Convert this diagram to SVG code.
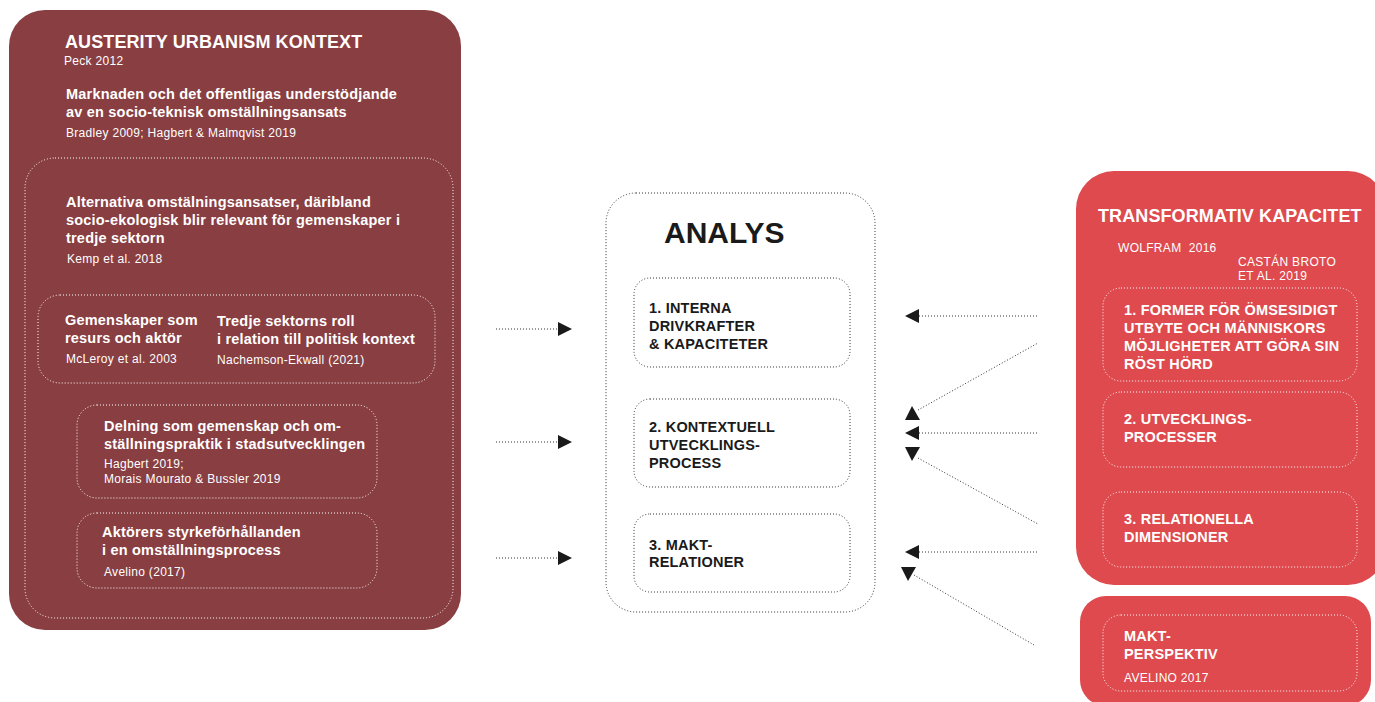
<svg xmlns="http://www.w3.org/2000/svg" width="1375" height="702" viewBox="0 0 1375 702">
<style>
text{font-family:"Liberation Sans",Arial,sans-serif;}
.w{fill:#fff;}
.h{font-size:18px;font-weight:bold;letter-spacing:0.1px;}
.t{font-size:14.5px;font-weight:bold;letter-spacing:0.2px;}
.s{font-size:12px;letter-spacing:0.3px;}
.k{fill:#1a1a1a;}
.dw{fill:none;stroke:#fff;stroke-width:1;stroke-dasharray:1 2;}
.dk{fill:none;stroke:#333;stroke-width:1;stroke-dasharray:1 2;}
.ah{fill:#1a1a1a;}
</style>
<rect width="1375" height="702" fill="#fff"/>
<g id="austerity">
<rect x="9" y="10" width="452" height="620" rx="36" fill="#893E42"/>
<text class="w h" x="65" y="48">AUSTERITY URBANISM KONTEXT</text>
<text class="w s" x="64" y="65">Peck 2012</text>
<text class="w t" x="66" y="99">Marknaden och det offentligas understödjande</text>
<text class="w t" x="66" y="117">av en socio-teknisk omställningsansats</text>
<text class="w s" x="66" y="137">Bradley 2009; Hagbert &amp; Malmqvist 2019</text>
<rect class="dw" x="25" y="158" width="428" height="460" rx="30"/>
<text class="w t" x="66" y="207">Alternativa omstälningsansatser, däribland</text>
<text class="w t" x="66" y="225">socio-ekologisk blir relevant för gemenskaper i</text>
<text class="w t" x="66" y="243">tredje sektorn</text>
<text class="w s" x="67" y="263">Kemp et al. 2018</text>
</g>
<g id="gemenskaper">
<rect class="dw" x="38" y="295" width="397" height="88" rx="22"/>
<text class="w t" x="65" y="325">Gemenskaper som</text>
<text class="w t" x="65" y="343">resurs och aktör</text>
<text class="w s" x="66" y="363">McLeroy et al. 2003</text>
<text class="w t" x="217" y="326">Tredje sektorns roll</text>
<text class="w t" x="217" y="344">i relation till politisk kontext</text>
<text class="w s" x="217" y="364">Nachemson-Ekwall (2021)</text>
</g>
<g id="delning">
<rect class="dw" x="77" y="405" width="300" height="93" rx="20"/>
<text class="w t" x="104" y="431">Delning som gemenskap och om-</text>
<text class="w t" x="104" y="449">ställningspraktik i stadsutvecklingen</text>
<text class="w s" x="104" y="468">Hagbert 2019;</text>
<text class="w s" x="104" y="483">Morais Mourato &amp; Bussler 2019</text>
</g>
<g id="aktorers">
<rect class="dw" x="77" y="513" width="300" height="75" rx="20"/>
<text class="w t" x="102" y="537">Aktörers styrkeförhållanden</text>
<text class="w t" x="102" y="555">i en omställningsprocess</text>
<text class="w s" x="104" y="576">Avelino (2017)</text>
</g>
<g id="analys">
<rect class="dk" x="606" y="193" width="269" height="419" rx="30"/>
<text class="k" x="664" y="243" style="font-size:30px;font-weight:bold">ANALYS</text>
</g>
<g id="a1">
<rect class="dk" x="634" y="278" width="216" height="89" rx="16"/>
<text class="k t" x="649" y="313">1. INTERNA</text>
<text class="k t" x="649" y="331">DRIVKRAFTER</text>
<text class="k t" x="649" y="349">&amp; KAPACITETER</text>
</g>
<g id="a2">
<rect class="dk" x="634" y="399" width="216" height="88" rx="16"/>
<text class="k t" x="649" y="432">2. KONTEXTUELL</text>
<text class="k t" x="649" y="450">UTVECKLINGS-</text>
<text class="k t" x="649" y="468">PROCESS</text>
</g>
<g id="a3">
<rect class="dk" x="634" y="514" width="216" height="78" rx="16"/>
<text class="k t" x="649" y="550">3. MAKT-</text>
<text class="k t" x="649" y="567">RELATIONER</text>
</g>
<g id="transformativ">
<rect x="1076" y="171" width="310" height="414" rx="38" fill="#DE4A4D"/>
<text class="w h" x="1098" y="222">TRANSFORMATIV KAPACITET</text>
<text class="w s" x="1118" y="252">WOLFRAM&#160; 2016</text>
<text class="w s" x="1238" y="266">CASTÁN BROTO</text>
<text class="w s" x="1238" y="280">ET AL. 2019</text>
</g>
<g id="t1">
<rect class="dw" x="1103" y="288" width="254" height="93" rx="18"/>
<text class="w t" x="1124" y="315">1. FORMER FÖR ÖMSESIDIGT</text>
<text class="w t" x="1124" y="333">UTBYTE OCH MÄNNISKORS</text>
<text class="w t" x="1124" y="351">MÖJLIGHETER ATT GÖRA SIN</text>
<text class="w t" x="1124" y="369">RÖST HÖRD</text>
</g>
<g id="t2">
<rect class="dw" x="1103" y="392" width="254" height="75" rx="18"/>
<text class="w t" x="1124" y="424">2. UTVECKLINGS-</text>
<text class="w t" x="1124" y="442">PROCESSER</text>
</g>
<g id="t3">
<rect class="dw" x="1103" y="492" width="254" height="75" rx="18"/>
<text class="w t" x="1124" y="524">3. RELATIONELLA</text>
<text class="w t" x="1124" y="542">DIMENSIONER</text>
</g>
<g id="maktperspektiv">
<rect x="1080" y="596" width="291" height="110" rx="26" fill="#DE4A4D"/>
<rect class="dw" x="1103" y="615" width="254" height="76" rx="18"/>
<text class="w t" x="1124" y="641">MAKT-</text>
<text class="w t" x="1124" y="659">PERSPEKTIV</text>
<text class="w s" x="1124" y="682">AVELINO 2017</text>
</g>
<g id="connectors">
<line class="dk" x1="496" y1="329" x2="558" y2="329"/>
<polygon class="ah" points="558,322 572,329 558,336"/>
<line class="dk" x1="496" y1="442" x2="558" y2="442"/>
<polygon class="ah" points="558,435 572,442 558,449"/>
<line class="dk" x1="496" y1="558" x2="558" y2="558"/>
<polygon class="ah" points="558,551 572,558 558,565"/>
<line class="dk" x1="919" y1="316" x2="1038" y2="316"/>
<polygon class="ah" points="905,316 919,309 919,323"/>
<line class="dk" x1="918" y1="410" x2="1038" y2="343"/>
<polygon class="ah" points="912,406 920,420 905,420"/>
<line class="dk" x1="919" y1="433" x2="1038" y2="433"/>
<polygon class="ah" points="905,433 919,426 919,440"/>
<line class="dk" x1="918" y1="458" x2="1038" y2="524"/>
<polygon class="ah" points="905,447 920,447 912,461"/>
<line class="dk" x1="914" y1="575" x2="1034" y2="645"/>
<polygon class="ah" points="901,567 916,567 908,581"/>
<line class="dk" x1="919" y1="552" x2="1038" y2="552"/>
<polygon class="ah" points="905,552 919,545 919,559"/>
</g>
</svg>
